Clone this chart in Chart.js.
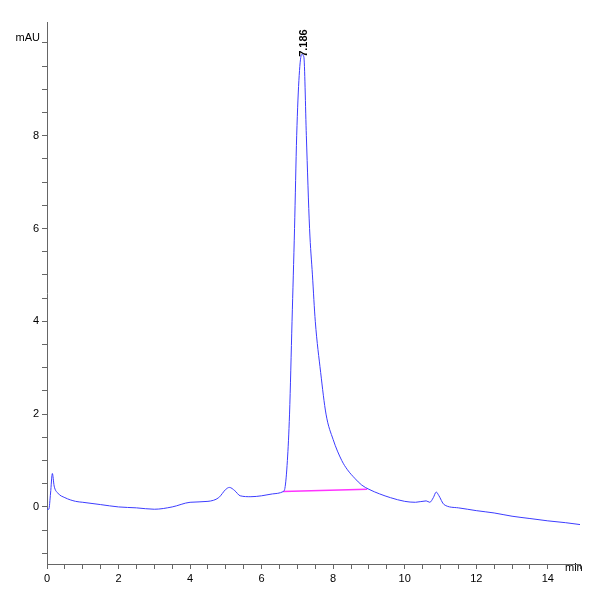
<!DOCTYPE html>
<html><head><script src="https://cdn.jsdelivr.net/npm/chart.js@4"></script>
<style>body{margin:0;background:#fff}#w{width:600px;height:600px}</style></head>
<body><div id="w"><canvas id="c"></canvas></div>
<script>
const times=[0,0.05,0.1,0.15,0.2,0.3,0.5,0.8,1,1.5,2,2.5,3,3.5,4,4.5,4.8,5,5.1,5.25,5.4,5.7,6,6.3,6.6,6.65,6.72,6.78,6.85,6.92,6.98,7.05,7.12,7.18,7.25,7.34,7.42,7.5,7.65,7.8,8.0,8.24,8.4,8.6,8.8,9,9.3,9.6,10,10.3,10.6,10.7,10.8,10.88,10.95,11.1,11.5,12,12.5,13,13.5,14,14.5,14.9];
const signal=[-0.05,-0.05,0.3,0.72,0.45,0.3,0.2,0.12,0.1,0.05,0.0,-0.02,-0.05,0.0,0.1,0.12,0.2,0.38,0.42,0.35,0.24,0.22,0.24,0.28,0.33,0.4,1.0,2.0,4.0,6.0,8.0,9.3,9.75,9.7,8.0,6.0,5.0,4.0,2.9,2.0,1.45,1.0,0.8,0.62,0.47,0.38,0.28,0.2,0.12,0.1,0.13,0.1,0.2,0.32,0.25,0.05,-0.02,-0.08,-0.13,-0.2,-0.25,-0.3,-0.34,-0.38];
const baseT=[6.6,8.95];
const baseV=[0.33,0.38];
const peakLabel="7.186";
const F="'Liberation Sans Narrow','Liberation Sans',Arial,sans-serif";
const overlay={id:'ov',afterDraw(ch){const c=ch.ctx,x=ch.scales.x,y=ch.scales.y;c.save();c.fillStyle='#000';c.font='11px '+F;
c.textAlign='right';c.textBaseline='middle';c.fillText('mAU',40,38);
c.textAlign='left';c.fillText('min',565,568);
c.translate(x.getPixelForValue(7.18),y.getPixelForValue(9.7));c.rotate(-Math.PI/2);c.textAlign='left';c.font='bold 11px '+F;c.fillText(peakLabel,0,0);c.restore();}};
new Chart(document.getElementById('c'),{type:'line',
data:{datasets:[
{data:times.map((t,i)=>({x:t,y:signal[i]})),borderColor:'#3c3cff',borderWidth:1,pointRadius:0,tension:0.3,cubicInterpolationMode:'monotone'},
{data:baseT.map((t,i)=>({x:t,y:baseV[i]})),borderColor:'#ff33ff',borderWidth:1.5,pointRadius:0}]},
options:{responsive:true,maintainAspectRatio:false,animation:false,events:[],
layout:{padding:{left:0,right:20,top:22,bottom:0}},
plugins:{legend:{display:false},tooltip:{enabled:false}},
scales:{
x:{type:'linear',min:0,max:14.9,afterFit(s){s.height=36},
grid:{drawOnChartArea:false,tickLength:5,color:'#666'},border:{color:'#666'},
ticks:{stepSize:0.5,autoSkip:false,maxRotation:0,color:'#000',font:{family:F,size:11},callback:v=>(v%2===0&&v<14.5)?String(v):''}},
y:{min:-1.23,max:10.45,afterFit(s){s.width=47},
grid:{drawOnChartArea:false,tickLength:5,color:'#666'},border:{color:'#666'},
afterBuildTicks(s){const t=[];for(let v=-1;v<=10;v+=0.5)t.push({value:v});s.ticks=t;},
ticks:{autoSkip:false,color:'#000',font:{family:F,size:11},callback:v=>(v%2===0&&v<10)?String(v):''}}}},
plugins:[overlay]});
</script></body></html>
